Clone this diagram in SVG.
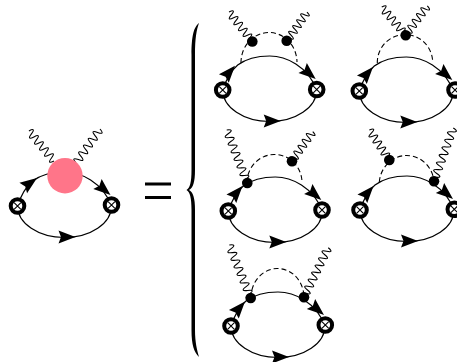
<svg xmlns="http://www.w3.org/2000/svg" width="457" height="362" viewBox="0 0 457 362">
<style>
.arc{fill:none;stroke:#000;stroke-width:1.2}
.dash{fill:none;stroke:#000;stroke-width:1.1;stroke-dasharray:5 3}
.wig{fill:none;stroke:#000;stroke-width:1.1;vector-effect:non-scaling-stroke}
.ring{fill:#fff;stroke:#000;stroke-width:4}
.x{stroke:#000;stroke-width:1.1;fill:none}
.dot{fill:#000}
</style>
<defs>
<path id="w" class="wig" d="M0 0q2-8 4 0t4 0t4 0t4 0t4 0t4 0t4 0t4 0t4 0t4 0"/>
<path id="W" class="wig" d="M0 0q2-8 4 0t4 0t4 0t4 0t4 0t4 0t4 0t4 0t4 0t4 0t4 0t4 0t4 0t4 0"/>
<path id="a" d="M0 0L-17 -6.500L-14.500 0L-17 6.500Z"/>
<g id="loop">
<path class="arc" d="M0 0C4 -12 8 -19 15 -25C23 -31 35 -34 47 -34C63 -34 85 -24 94 0"/>
<path class="arc" d="M0 0A47 31.500 0 0 0 94 0"/>
<use href="#a" transform="translate(58 31)"/>
<use href="#a" transform="translate(93 -11) rotate(40)"/>
</g>
<g id="v">
<circle class="ring" r="6.800"/>
<path class="x" d="M-3.400 -3.400L3.400 3.400M-3.400 3.400L3.400 -3.400"/>
</g>
</defs>
<g id="connectors">
<use href="#loop" transform="translate(17.500 206)"/>
<use href="#a" transform="translate(37 178) rotate(-36)"/>
<use href="#w" transform="translate(54 161) rotate(-129.800) scale(.98 1)"/>
<use href="#w" transform="translate(76 163) rotate(-54.800) scale(1.04 1)"/>

<use href="#loop" transform="translate(222.700 90)"/>
<use href="#a" transform="translate(235 65.700) rotate(-49)"/>
<path class="dash" d="M241 63A28 30 0 0 1 297 62"/>
<use href="#w" transform="translate(252 41) rotate(-128.400) scale(.925 1)"/>
<use href="#w" transform="translate(287 41) rotate(-55.400) scale(.88 1)"/>

<use href="#loop" transform="translate(359.300 91)"/>
<use href="#a" transform="translate(373 67) rotate(-49)"/>
<path class="dash" d="M377.300 63A27.700 28 0 0 1 432.700 62"/>
<use href="#w" transform="translate(405.700 35) rotate(-130.600) scale(.92 1)"/>
<use href="#w" transform="translate(405.700 35) rotate(-53.300) scale(.905 1)"/>

<use href="#loop" transform="translate(228.300 211)"/>
<use href="#a" transform="translate(242.500 186) rotate(-49)"/>
<path class="dash" d="M247 183A27.500 28 0 0 1 302 182"/>
<use href="#W" transform="translate(247.300 183) rotate(-111.200) scale(1.016 1)"/>
<use href="#w" transform="translate(292 161) rotate(-54.800) scale(.9 1)"/>

<use href="#loop" transform="translate(360 210)"/>
<use href="#a" transform="translate(373.500 186) rotate(-49)"/>
<path class="dash" d="M379.300 182A27.500 29 0 0 1 434 181"/>
<use href="#w" transform="translate(389.300 160) rotate(-123.700) scale(.9 1)"/>
<use href="#W" transform="translate(434 181) rotate(-70) scale(1.007 1)"/>

<use href="#loop" transform="translate(231 326)"/>
<use href="#a" transform="translate(245 301.500) rotate(-49)"/>
<path class="dash" d="M251 298A26.500 29 0 0 1 304 297"/>
<use href="#W" transform="translate(250.700 298) rotate(-112) scale(1.02 1)"/>
<use href="#W" transform="translate(304 297) rotate(-63.800) scale(.98 1)"/>
</g>
<g id="blob"><circle cx="65" cy="175.700" r="17.700" fill="#ff7589"/></g>
<g id="equals"><path d="M145 184H171M145 197.500H171" stroke="#000" stroke-width="2.800" fill="none"/></g>
<g id="brace"><path d="M199 23C194 27 191.500 35 191.500 55L191.500 170C191.500 182 190 188 186.500 190C190 192 191.500 198 191.500 210L191.500 330C191.500 345 194 352 199 357C197 350 195 342 195 330L195 210C195 198 193 192 189 190C193 188 195 182 195 170L195 55C195 38 196.500 30 199 23Z"/></g>
<g id="node-a1"><use href="#v" x="17.500" y="206"/></g>
<g id="node-a2"><use href="#v" x="111.500" y="205"/></g>
<g id="node-b1"><use href="#v" x="222.700" y="90"/><circle class="dot" cx="252.300" cy="41.500" r="5.300"/></g>
<g id="node-b2"><use href="#v" x="316.700" y="89.500"/><circle class="dot" cx="286.700" cy="40.800" r="5.300"/></g>
<g id="node-c1"><use href="#v" x="359.300" y="91"/><circle class="dot" cx="405.700" cy="35.300" r="5.300"/></g>
<g id="node-c2"><use href="#v" x="455" y="90"/></g>
<g id="node-d1"><use href="#v" x="228.300" y="211"/><circle class="dot" cx="247.300" cy="183" r="5.300"/></g>
<g id="node-d2"><use href="#v" x="322" y="210"/><circle class="dot" cx="292" cy="161.300" r="5.300"/></g>
<g id="node-e1"><use href="#v" x="360" y="210"/><circle class="dot" cx="389.300" cy="160" r="5.300"/></g>
<g id="node-e2"><use href="#v" x="454.300" y="209.300"/><circle class="dot" cx="434" cy="181.300" r="5.300"/></g>
<g id="node-f1"><use href="#v" x="231" y="326"/><circle class="dot" cx="250.700" cy="298" r="5.300"/></g>
<g id="node-f2"><use href="#v" x="325.300" y="325"/><circle class="dot" cx="304" cy="297.300" r="5.300"/></g>
</svg>
